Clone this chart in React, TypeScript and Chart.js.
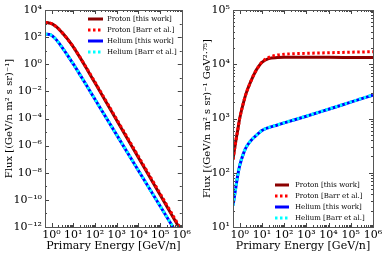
import React, { useEffect, useRef } from 'react';
import { Chart, registerables } from 'chart.js';

Chart.register(...registerables);

// Primary energy [GeV/n]
const energy = [0.5, 0.6, 0.7, 0.8, 1, 1.5, 2, 3, 5, 7, 10, 20, 50, 100, 1e3, 1e4, 1e5, 1e6];

// Left panel: flux [(GeV/n m^2 s sr)^-1]
const protonFlux = [1177, 1175, 1147, 1071, 1000, 656, 446, 224, 86, 42.7, 19.2, 3.35, 0.283, 0.0424, 7.5e-5, 1.34e-7, 2.38e-10, 4.2e-13];
const protonFluxBarr = [1177, 1175, 1147, 1071, 1000, 656, 446, 224, 86, 42.7, 19.6, 3.51, 0.315, 0.0484, 8.9e-5, 1.63e-7, 2.97e-10, 5.4e-13];
const heliumFlux = [168, 163, 160, 157, 135, 75.4, 44.6, 18.5, 5.62, 2.51, 1.07, 0.18, 0.0162, 2.62e-3, 6.18e-6, 1.48e-8, 3.56e-11, 8.5e-14];
const heliumFluxBarr = [168, 163, 160, 158.8, 136, 76.1, 44.9, 18.6, 5.65, 2.52, 1.07, 0.18, 0.0163, 2.64e-3, 6.24e-6, 1.49e-8, 3.6e-11, 8.7e-14];

// Right panel: flux x E^2.75
const protonWeighted = [175, 288, 430, 580, 1000, 2000, 3000, 4600, 7200, 9000, 10800, 12700, 13300, 13400, 13400, 13400, 13350, 13300];
const protonWeightedBarr = [175, 288, 430, 580, 1000, 2000, 3000, 4600, 7200, 9000, 11000, 13300, 14800, 15300, 15900, 16300, 16700, 17000];
const heliumWeighted = [25, 40, 60, 85, 135, 230, 300, 380, 470, 530, 600, 680, 760, 830, 1100, 1480, 2000, 2700];
const heliumWeightedBarr = [25, 40, 60, 86, 136, 232, 302, 382, 472, 532, 602, 682, 765, 835, 1110, 1490, 2020, 2750];

const seriesNames = ['Proton [this work]', 'Proton [Barr et al.]', 'Helium [this work]', 'Helium [Barr et al.]'];
const seriesColors = ['#8b0000', '#ff0000', '#0000ff', '#00ffff'];
const seriesDashed = [false, true, false, true];

const xTicks = [1, 10, 100, 1e3, 1e4, 1e5, 1e6];
const xMinorTicks = [2, 3, 4, 5, 6, 7, 8, 9, 20, 30, 40, 50, 60, 70, 80, 90, 200, 300, 400, 500, 600, 700, 800, 900, 2e3, 3e3, 4e3, 5e3, 6e3, 7e3, 8e3, 9e3, 2e4, 3e4, 4e4, 5e4, 6e4, 7e4, 8e4, 9e4, 2e5, 3e5, 4e5, 5e5, 6e5, 7e5, 8e5, 9e5];
const leftYTicks = [1e-12, 1e-10, 1e-8, 1e-6, 1e-4, 1e-2, 1, 1e2, 1e4];
const leftYMinorTicks = [1e-11, 1e-9, 1e-7, 1e-5, 1e-3, 1e-1, 10, 1e3];
const rightYTicks = [10, 100, 1e3, 1e4, 1e5];
const rightYMinorTicks = [20, 30, 40, 50, 60, 70, 80, 90, 200, 300, 400, 500, 600, 700, 800, 900, 2e3, 3e3, 4e3, 5e3, 6e3, 7e3, 8e3, 9e3, 2e4, 3e4, 4e4, 5e4, 6e4, 7e4, 8e4, 9e4];

const leftYTitle = 'Flux [(GeV/n m² s sr)⁻¹]';
const rightYTitle = 'Flux [(GeV/n m² s sr)⁻¹ GeV²·⁷⁵]';
const xTitle = 'Primary Energy [GeV/n]';

const FONT = "'DejaVu Serif', serif";

const SUP: Record<string, string> = { '-': '⁻', '0': '⁰', '1': '¹', '2': '²', '3': '³', '4': '⁴', '5': '⁵', '6': '⁶', '7': '⁷', '8': '⁸', '9': '⁹' };
const powLabel = (v: number) => '10' + String(Math.round(Math.log10(v))).split('').map((c) => SUP[c]).join('');

const frameTicks = {
  id: 'frameTicks',
  afterDatasetsDraw(chart: any, _args: any, opts: any) {
    const { ctx, chartArea: a, scales } = chart;
    ctx.save();
    ctx.strokeStyle = '#444';
    ctx.lineWidth = 1;
    const line = (x1: number, y1: number, x2: number, y2: number) => {
      ctx.beginPath();
      ctx.moveTo(x1, y1);
      ctx.lineTo(x2, y2);
      ctx.stroke();
    };
    const xs = (vals: number[], len: number) => {
      for (const v of vals) {
        const x = Math.round(scales.x.getPixelForValue(v)) + 0.5;
        if (x < a.left || x > a.right) continue;
        line(x, a.bottom, x, a.bottom - len);
        line(x, a.top, x, a.top + len);
      }
    };
    const ys = (vals: number[], len: number) => {
      for (const v of vals) {
        const y = Math.round(scales.y.getPixelForValue(v)) + 0.5;
        if (y < a.top || y > a.bottom) continue;
        line(a.left, y, a.left + len, y);
        line(a.right, y, a.right - len, y);
      }
    };
    xs(opts.xMajor, 4);
    xs(opts.xMinor, 2);
    ys(opts.yMajor, 4);
    ys(opts.yMinor, 2);
    ctx.strokeStyle = '#555';
    ctx.strokeRect(Math.round(a.left) + 0.5, Math.round(a.top) + 0.5, Math.round(a.right - a.left), Math.round(a.bottom - a.top));
    ctx.restore();
  },
};

const customLegend = {
  id: 'customLegend',
  afterDraw(chart: any, _args: any, opts: any) {
    const { ctx } = chart;
    ctx.save();
    ctx.font = `${opts.fontSize}px ${FONT}`;
    ctx.textBaseline = 'middle';
    ctx.fillStyle = '#000';
    seriesNames.forEach((name, i) => {
      const y = opts.y + i * opts.row;
      ctx.strokeStyle = seriesColors[i];
      ctx.lineWidth = 3;
      ctx.setLineDash(seriesDashed[i] ? [2.5, 2.5] : []);
      ctx.beginPath();
      ctx.moveTo(opts.x, y);
      ctx.lineTo(opts.x + opts.len, y);
      ctx.stroke();
      ctx.setLineDash([]);
      ctx.fillText(name, opts.x + opts.len + opts.gap, y);
    });
    ctx.restore();
  },
};

function makeDatasets(values: number[][]) {
  return values.map((vals, i) => ({
    label: seriesNames[i],
    data: energy.map((e, j) => ({ x: e, y: vals[j] })),
    borderColor: seriesColors[i],
    backgroundColor: seriesColors[i],
    borderWidth: 3,
    borderDash: seriesDashed[i] ? [2.5, 2.5] : [],
    pointRadius: 0,
    fill: false,
    cubicInterpolationMode: 'monotone' as const,
    order: seriesDashed[i] ? 0 : 1,
  }));
}

function buildConfig(p: {
  values: number[][];
  yMin: number;
  yMax: number;
  yTicks: number[];
  yMinor: number[];
  yTitle: string;
  yWidth: number;
  yTitlePad: number;
  padRight: number;
  legend: { x: number; y: number; row: number; len: number; gap: number; fontSize: number };
}): any {
  return {
    type: 'line',
    data: { datasets: makeDatasets(p.values) },
    options: {
      responsive: false,
      animation: false,
      devicePixelRatio: 1,
      layout: { padding: { left: 0, top: 10, right: p.padRight, bottom: 0 } },
      plugins: {
        legend: { display: false },
        tooltip: { enabled: false },
        frameTicks: { xMajor: xTicks, xMinor: xMinorTicks, yMajor: p.yTicks, yMinor: p.yMinor },
        customLegend: p.legend,
      },
      scales: {
        x: {
          type: 'logarithmic',
          min: 0.5,
          max: 1e6,
          grid: { display: false, drawTicks: false },
          border: { display: false },
          afterBuildTicks: (s: any) => {
            s.ticks = xTicks.map((v) => ({ value: v }));
          },
          afterFit: (s: any) => {
            s.height = 31;
          },
          ticks: {
            autoSkip: false,
            maxRotation: 0,
            padding: 2,
            color: '#000',
            font: { family: FONT, size: 11 },
            callback: (v: any) => powLabel(Number(v)),
          },
          title: {
            display: true,
            text: xTitle,
            color: '#000',
            font: { family: FONT, size: 11 },
            padding: { top: 0, bottom: 5 },
          },
        },
        y: {
          type: 'logarithmic',
          min: p.yMin,
          max: p.yMax,
          grid: { display: false, drawTicks: false },
          border: { display: false },
          afterBuildTicks: (s: any) => {
            s.ticks = p.yTicks.map((v) => ({ value: v }));
          },
          afterFit: (s: any) => {
            s.width = p.yWidth;
          },
          ticks: {
            autoSkip: false,
            padding: 3,
            color: '#000',
            font: { family: FONT, size: 11 },
            callback: (v: any) => powLabel(Number(v)),
          },
          title: {
            display: true,
            text: p.yTitle,
            color: '#000',
            font: { family: FONT, size: 10 },
            padding: { top: p.yTitlePad, bottom: 0 },
          },
        },
      },
    },
    plugins: [frameTicks, customLegend],
  };
}

export default function App() {
  const leftRef = useRef<HTMLCanvasElement>(null);
  const rightRef = useRef<HTMLCanvasElement>(null);

  useEffect(() => {
    document.body.style.margin = '0';
    const left = new Chart(
      leftRef.current!,
      buildConfig({
        values: [protonFlux, protonFluxBarr, heliumFlux, heliumFluxBarr],
        yMin: 1e-12,
        yMax: 1e4,
        yTicks: leftYTicks,
        yMinor: leftYMinorTicks,
        yTitle: leftYTitle,
        yWidth: 45,
        yTitlePad: 3,
        padRight: 10,
        legend: { x: 88, y: 19, row: 11, len: 15, gap: 4, fontSize: 7 },
      })
    );
    const right = new Chart(
      rightRef.current!,
      buildConfig({
        values: [protonWeighted, protonWeightedBarr, heliumWeighted, heliumWeightedBarr],
        yMin: 10,
        yMax: 1e5,
        yTicks: rightYTicks,
        yMinor: rightYMinorTicks,
        yTitle: rightYTitle,
        yWidth: 40,
        yTitlePad: 8,
        padRight: 13,
        legend: { x: 82, y: 185, row: 11, len: 14, gap: 6, fontSize: 7 },
      })
    );
    return () => {
      left.destroy();
      right.destroy();
    };
  }, []);

  return (
    <div style={{ position: 'fixed', left: 0, top: 0, width: 386, height: 258, background: '#fff' }}>
      <canvas ref={leftRef} width={193} height={258} style={{ position: 'absolute', left: 0, top: 0 }} />
      <canvas ref={rightRef} width={193} height={258} style={{ position: 'absolute', left: 193, top: 0 }} />
    </div>
  );
}
